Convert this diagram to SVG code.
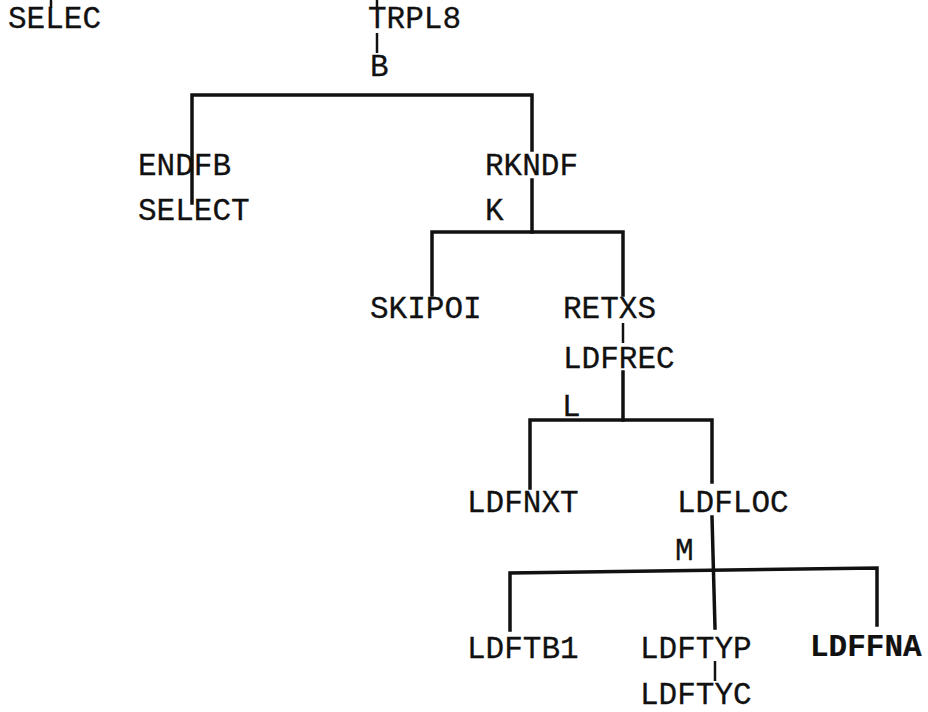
<svg xmlns="http://www.w3.org/2000/svg" width="928" height="712" viewBox="0 0 928 712">
  <style>
    .t { font-family: "Liberation Mono", "Courier New", monospace; font-size: 31px; fill: #111; stroke: #111; stroke-width: 0.3; }
    .b { font-weight: bold; stroke-width: 0.2; }
    .c { fill: none; stroke: #111; stroke-width: 3.5; stroke-linecap: square; stroke-linejoin: miter; }
    .tk { fill: none; stroke: #111; stroke-width: 2.5; }
  </style>
  <rect width="928" height="712" fill="#fff"/>

  <!-- connectors -->
  <g id="connectors">
    <!-- ties coming in from above the top row -->
    <line class="tk" x1="51" y1="0" x2="51" y2="8"/>
    <line class="tk" x1="377" y1="0" x2="377" y2="8"/>
    <!-- TRPL8 to its branch letter -->
    <line class="tk" x1="377" y1="33" x2="377" y2="53"/>
    <!-- branch B -->
    <polyline class="c" points="192,203 192,95 532,95 532,150"/>
    <!-- branch K -->
    <line class="c" x1="532" y1="180" x2="532" y2="232"/>
    <polyline class="c" points="432,295 432,232 623,232 623,295"/>
    <line class="tk" x1="623" y1="323" x2="623" y2="343"/>
    <!-- branch L -->
    <line class="c" x1="623" y1="372" x2="623" y2="420"/>
    <polyline class="c" points="530,488 530,420 712,420 712,482"/>
    <!-- branch M -->
    <line class="c" x1="712" y1="517" x2="715" y2="628"/>
    <polyline class="c" points="510,630 510,573 877,568 877,625"/>
    <line class="tk" x1="715" y1="661" x2="715" y2="681"/>
  </g>

  <!-- branch letters -->
  <g id="branch-labels">
    <text class="t" x="370" y="76">B</text>
    <text class="t" x="485" y="220">K</text>
    <text class="t" x="562" y="416">L</text>
    <text class="t" x="675" y="560">M</text>
  </g>

  <!-- nodes -->
  <g id="n-selec"><text class="t" x="8" y="28">SELEC</text></g>
  <g id="n-trpl8"><text class="t" x="368" y="28">TRPL8</text></g>
  <g id="n-endfb"><text class="t" x="138" y="175">ENDFB</text></g>
  <g id="n-select"><text class="t" x="138" y="220">SELECT</text></g>
  <g id="n-rkndf"><text class="t" x="485" y="175">RKNDF</text></g>
  <g id="n-skipoi"><text class="t" x="370" y="318">SKIPOI</text></g>
  <g id="n-retxs"><text class="t" x="563" y="318">RETXS</text></g>
  <g id="n-ldfrec"><text class="t" x="563" y="368">LDFREC</text></g>
  <g id="n-ldfnxt"><text class="t" x="467" y="512">LDFNXT</text></g>
  <g id="n-ldfloc"><text class="t" x="677" y="512">LDFLOC</text></g>
  <g id="n-ldftb1"><text class="t" x="467" y="658">LDFTB1</text></g>
  <g id="n-ldftyp"><text class="t" x="640" y="658">LDFTYP</text></g>
  <g id="n-ldftyc"><text class="t" x="640" y="704">LDFTYC</text></g>
  <g id="n-ldffna"><text class="t b" x="810" y="656">LDFFNA</text></g>
</svg>
